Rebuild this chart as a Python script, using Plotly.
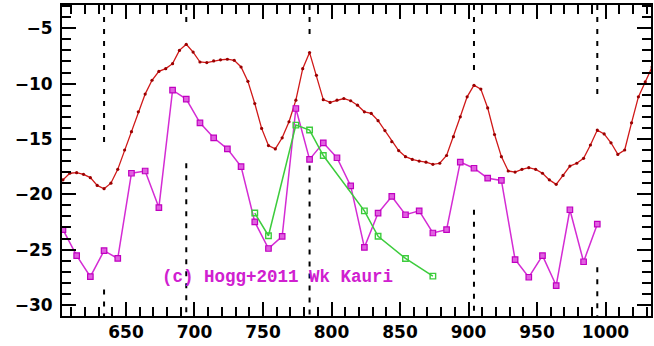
import plotly.graph_objects as go

# Red reconstruction, sampled every 5 years
red_years = [604 + 5 * i for i in range(87)]
red_values = [
    -18.7, -18.1, -18.05, -18.2, -18.5, -19.2, -19.5, -19.0, -17.75, -16.0,
    -14.35, -12.55, -10.95, -9.7, -8.9, -8.65, -8.2, -7.0, -6.45, -7.15,
    -8.05, -8.1, -7.95, -7.85, -7.8, -7.9, -8.5, -9.8, -11.8, -14.05,
    -15.6, -15.9, -14.9, -13.45, -11.5, -8.65, -7.2, -9.25, -11.45, -11.7,
    -11.5, -11.35, -11.55, -11.95, -12.55, -12.7, -13.35, -14.25, -15.25, -16.05,
    -16.6, -16.85, -17.0, -17.1, -17.3, -17.2, -16.5, -14.8, -13.0, -11.2,
    -10.15, -10.5, -12.2, -14.6, -16.6, -17.9, -18.0, -17.75, -17.6, -17.75,
    -18.1, -18.7, -19.1, -18.3, -17.45, -17.2, -16.75, -15.55, -14.2, -14.55,
    -15.35, -16.4, -16.0, -13.55, -11.2, -9.85, -8.5,
]

# Hogg+2011 series, decadal
hogg_years = [604 + 10 * i for i in range(40)]
hogg_values = [
    -23.2, -25.55, -27.45, -25.1, -25.8, -18.1, -17.9, -21.2, -10.6, -11.4,
    -13.55, -14.9, -15.9, -17.5, -22.5, -24.9, -23.8, -12.25, -16.85, -15.35,
    -16.7, -19.25, -24.8, -21.7, -20.2, -21.85, -21.5, -23.5, -23.2, -17.1,
    -17.65, -18.55, -18.75, -25.9, -27.5, -25.55, -28.25, -21.4, -26.1, -22.7,
]

# Wk Kauri series
kauri_years = [744, 754, 774, 784, 794, 824, 834, 854, 874]
kauri_values = [-21.7, -23.75, -13.75, -14.2, -16.5, -21.5, -23.8, -25.8, -27.4]

# Dashed marker lines: year, lower end of the upper piece, upper end of the lower piece
marker_years = [634, 694, 784, 904, 994]
upper_piece_ends = [-15.3, -4.9, -5.9, -9.0, -11.5]
lower_piece_starts = [-28.6, -17.2, -17.4, -21.4, -26.6]

x_range = [603.3, 1033.2]
y_range = [-31.0, -2.9]

fig = go.Figure()

# dashed vertical markers as broken line segments
dash_x, dash_y = [], []
for yr, up_end, lo_start in zip(marker_years, upper_piece_ends, lower_piece_starts):
    dash_x += [yr, yr, None, yr, yr, None]
    dash_y += [y_range[1], up_end, None, lo_start, y_range[0], None]
fig.add_trace(go.Scatter(
    x=dash_x, y=dash_y, mode="lines",
    line=dict(color="black", width=2, dash="5px,7px"),
    hoverinfo="skip", showlegend=False,
))

fig.add_trace(go.Scatter(
    x=red_years, y=red_values, mode="lines+markers",
    line=dict(color="#d01818", width=1.3),
    marker=dict(color="#9a0000", size=3.2, symbol="circle"),
    showlegend=False,
))

fig.add_trace(go.Scatter(
    x=hogg_years, y=hogg_values, mode="lines+markers",
    line=dict(color="#d42cd4", width=1.5),
    marker=dict(color="#e060e0", size=5.5, symbol="square",
                line=dict(color="#c000c0", width=1.2)),
    showlegend=False,
))

fig.add_trace(go.Scatter(
    x=kauri_years, y=kauri_values, mode="lines+markers",
    line=dict(color="#3ccc3c", width=1.5),
    marker=dict(color="#3ccc3c", size=5.5, symbol="square-open",
                line=dict(color="#2fbf2f", width=1.4)),
    showlegend=False,
))

# transparent anchor trace so the top and right tick axes get drawn
fig.add_trace(go.Scatter(
    x=[x_range[0]], y=[y_range[0]], xaxis="x2", yaxis="y2",
    mode="markers", marker=dict(opacity=0, size=1),
    hoverinfo="skip", showlegend=False,
))

fig.add_annotation(
    x=674.8, y=-27.5, xref="x", yref="y",
    text="(c) Hogg+2011 Wk Kauri",
    showarrow=False, xanchor="left", yanchor="middle",
    font=dict(family="Liberation Mono", size=17.5, color="#d020d0", weight="bold"),
)

tick_font = dict(family="DejaVu Sans", size=17, color="black", weight="bold")
tick_color = "black"

common_x = dict(
    range=x_range, tick0=0, dtick=50,
    ticks="inside", ticklen=14, tickwidth=2, tickcolor=tick_color,
    minor=dict(tick0=0, dtick=10, ticks="inside", ticklen=9, tickwidth=2, tickcolor=tick_color),
    showline=True, linecolor="black", linewidth=2,
    showgrid=False, zeroline=False,
)
common_y = dict(
    range=y_range, tick0=0, dtick=5,
    ticks="inside", ticklen=14, tickwidth=2, tickcolor=tick_color,
    minor=dict(tick0=0, dtick=1, ticks="inside", ticklen=9, tickwidth=2, tickcolor=tick_color),
    showline=True, linecolor="black", linewidth=2,
    showgrid=False, zeroline=False,
)

fig.update_layout(
    width=654, height=346,
    margin=dict(l=62, r=3, t=5, b=30),
    paper_bgcolor="white", plot_bgcolor="white",
    xaxis=dict(**common_x, tickfont=tick_font),
    yaxis=dict(**common_y, tickfont=tick_font, ticklabelstandoff=4),
    xaxis2=dict(**common_x, overlaying="x", side="top", anchor="y2",
                showticklabels=False),
    yaxis2=dict(**common_y, overlaying="y", side="right", anchor="x2",
                showticklabels=False),
)

fig.write_html("out.html")
